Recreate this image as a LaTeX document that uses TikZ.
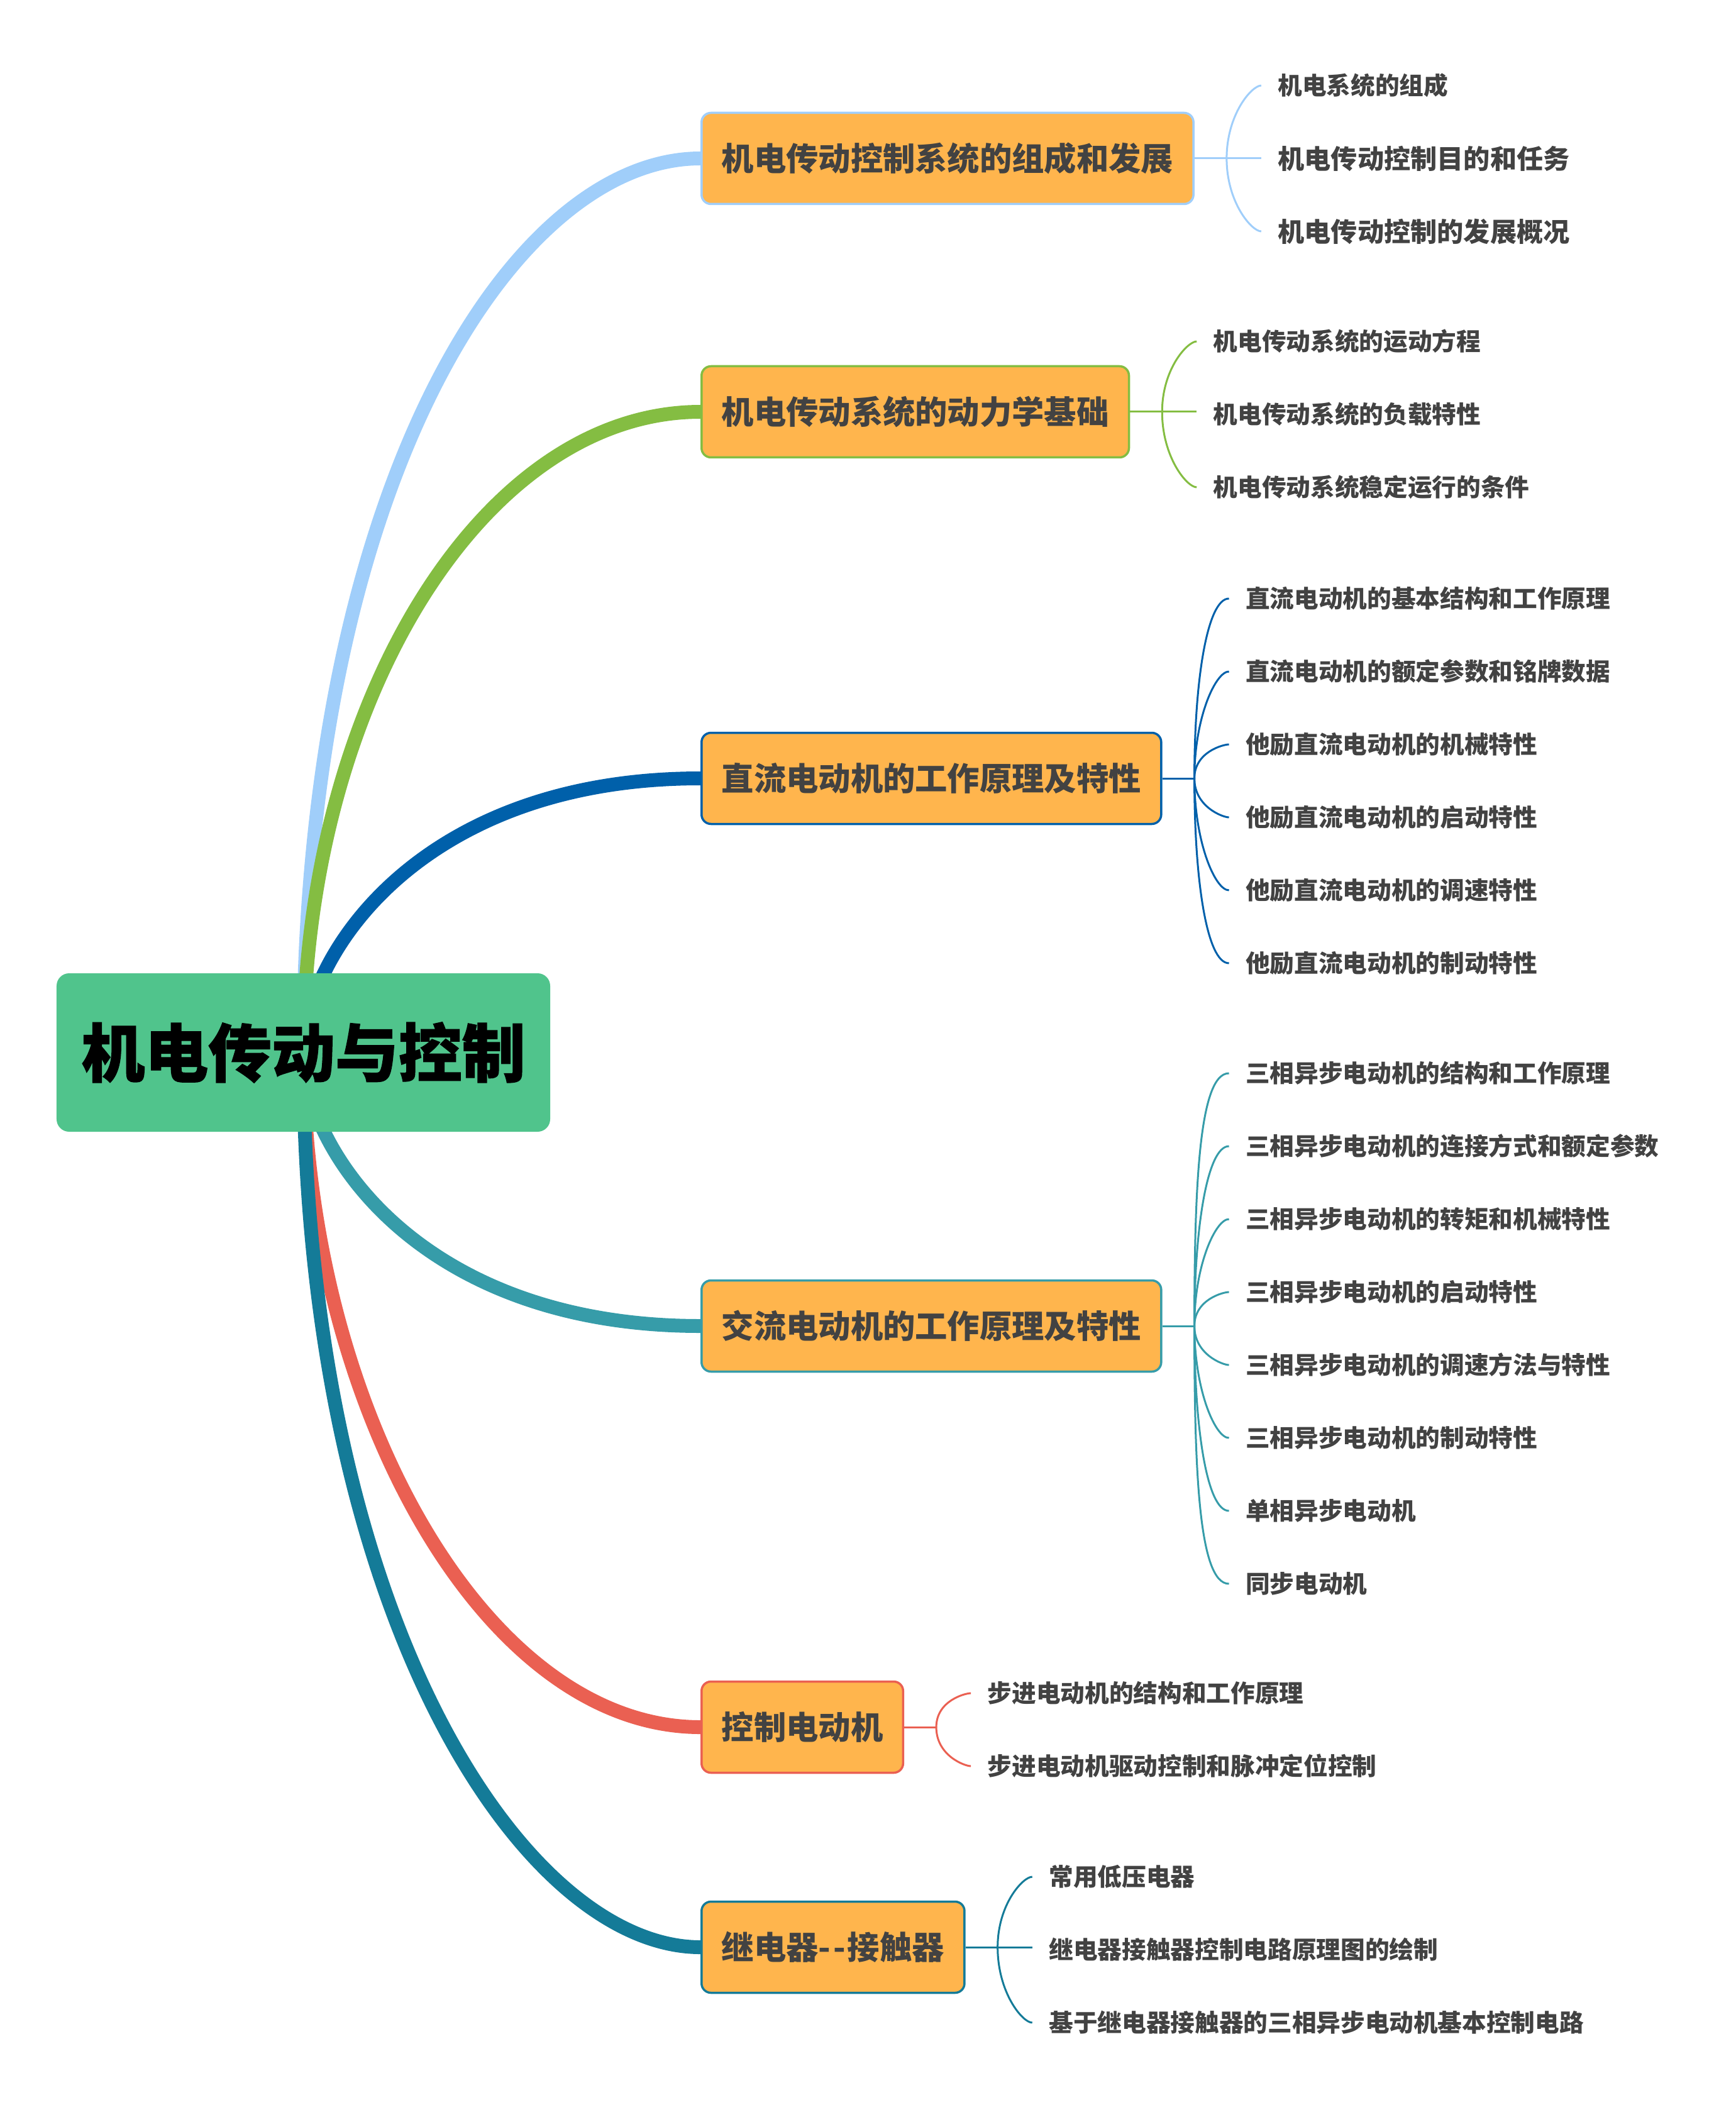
\documentclass[tikz,border=0pt]{standalone}
\usepackage{fontspec}
\newfontfamily\cjk{Noto Sans CJK SC}
\newfontfamily\rootfont{Noto Sans CJK SC}[BoldFeatures={FakeBold=1.2}]
\usetikzlibrary{positioning,backgrounds}

\definecolor{rootgreen}{HTML}{50C48C}
\definecolor{boxorange}{HTML}{FFB54D}
\definecolor{textgray}{HTML}{424242}
\definecolor{skyblue}{HTML}{A0CEFA}
\definecolor{grassgreen}{HTML}{84BD42}
\definecolor{deepblue}{HTML}{0060AA}
\definecolor{seateal}{HTML}{369CA9}
\definecolor{coralred}{HTML}{EA6052}
\definecolor{inkteal}{HTML}{147B98}

\begin{document}
\begin{tikzpicture}[
    x=1mm, y=1mm,
    root/.style={fill=rootgreen,rounded corners=2mm,minimum width=78.5mm,minimum height=25.2mm,
      font=\rootfont\bfseries\fontsize{28.7}{30}\selectfont},
    topic/.style={draw=#1,fill=boxorange,line width=0.35mm,rounded corners=1.5mm,
      minimum height=14.5mm,inner xsep=3.2mm,anchor=west,text=textgray,
      font=\cjk\bfseries\fontsize{14.6}{16}\selectfont},
    sub/.style={anchor=west,inner xsep=2.6mm,text=textgray,
      font=\cjk\bfseries\fontsize{11}{13}\selectfont},
    bigsub/.style={sub,font=\cjk\bfseries\fontsize{12}{14}\selectfont},
    limb/.style={draw=#1,line width=2.2mm},
    twig/.style={draw=#1,line width=0.3mm},
    fanup/.style={out=90,in=180,out looseness=1.4,in looseness=0.3},
    fandown/.style={out=-90,in=180,out looseness=1.4,in looseness=0.3}]
  \useasboundingbox (0,0) rectangle (276,-334.8);

  % centre and main topics
  \node[root] (root) at (48.25,-167.4) {机电传动与控制};
  \node[topic=skyblue] (b1) at (111.4,-25.2) {机电传动控制系统的组成和发展};
  \node[topic=grassgreen] (b2) at (111.4,-65.5) {机电传动系统的动力学基础};
  \node[topic=deepblue] (b3) at (111.4,-123.8) {直流电动机的工作原理及特性};
  \node[topic=seateal] (b4) at (111.4,-210.9) {交流电动机的工作原理及特性};
  \node[topic=coralred] (b5) at (111.4,-274.7) {控制电动机};
  \node[topic=inkteal] (b6) at (111.4,-309.7) {继电器-\kern0.4mm-\kern0.3mm接触器};

  % subtopics
  \node[sub] (b1s1) at ([xshift=10.6mm,yshift=11.6mm]b1.east) {机电系统的组成};
  \node[bigsub] (b1s2) at ([xshift=10.6mm]b1.east) {机电传动控制目的和任务};
  \node[bigsub] (b1s3) at ([xshift=10.6mm,yshift=-11.6mm]b1.east) {机电传动控制的发展概况};
  \foreach \t [count=\i] in {机电传动系统的运动方程,机电传动系统的负载特性,机电传动系统稳定运行的条件}
    \node[sub] (b2s\i) at ([xshift=10.6mm,yshift={(2-\i)*11.6mm-0.4mm}]b2.east) {\t};
  \foreach \t [count=\i] in {直流电动机的基本结构和工作原理,直流电动机的额定参数和铭牌数据,
      他励直流电动机的机械特性,他励直流电动机的启动特性,他励直流电动机的调速特性,他励直流电动机的制动特性}
    \node[sub] (b3s\i) at ([xshift=10.6mm,yshift={(3.5-\i)*11.6mm-0.4mm}]b3.east) {\t};
  \foreach \t [count=\i] in {三相异步电动机的结构和工作原理,三相异步电动机的连接方式和额定参数,
      三相异步电动机的转矩和机械特性,三相异步电动机的启动特性,三相异步电动机的调速方法与特性,
      三相异步电动机的制动特性,单相异步电动机,同步电动机}
    \node[sub] (b4s\i) at ([xshift=10.6mm,yshift={(4.5-\i)*11.6mm-0.4mm}]b4.east) {\t};
  \foreach \t [count=\i] in {步进电动机的结构和工作原理,步进电动机驱动控制和脉冲定位控制}
    \node[sub] (b5s\i) at ([xshift=10.6mm,yshift={(1.5-\i)*11.6mm-0.4mm}]b5.east) {\t};
  \foreach \t [count=\i] in {常用低压电器,继电器接触器控制电路原理图的绘制,基于继电器接触器的三相异步电动机基本控制电路}
    \node[sub] (b6s\i) at ([xshift=10.6mm,yshift={(2-\i)*11.6mm-0.4mm}]b6.east) {\t};

  % thick branches behind the boxes
  \begin{scope}[on background layer]
    \draw[limb=skyblue] (root.center) to[out=90,in=180,out distance=90mm,in distance=30mm] (b1.west);
    \draw[limb=grassgreen] (root.center) to[out=90,in=180,out distance=55mm,in distance=35mm] (b2.west);
    \draw[limb=deepblue] (root.center) to[out=90,in=180,out distance=15mm,in distance=45mm] (b3.west);
    \draw[limb=seateal] (root.center) to[out=-90,in=180,out distance=15mm,in distance=45mm] (b4.west);
    \draw[limb=coralred] (root.center) to[out=-90,in=180,out distance=55mm,in distance=35mm] (b5.west);
    \draw[limb=inkteal] (root.center) to[out=-90,in=180,out distance=90mm,in distance=28mm] (b6.west);
  \end{scope}

  % brackets
  \draw[twig=skyblue] (b1.east) -- ++(5.1,0) coordinate (j1) -- (b1s2.west);
  \draw[twig=skyblue] (j1) to[fanup] (b1s1.west);
  \draw[twig=skyblue] (j1) to[fandown] (b1s3.west);
  \draw[twig=grassgreen] (b2.east) -- ++(5.1,0) coordinate (j2) -- ([yshift=0.4mm]b2s2.west);
  \draw[twig=grassgreen] (j2) to[fanup] (b2s1.west);
  \draw[twig=grassgreen] (j2) to[fandown] (b2s3.west);
  \draw[twig=deepblue] (b3.east) -- ++(5.1,0) coordinate (j3);
  \foreach \i in {1,2,3} \draw[twig=deepblue] (j3) to[fanup] (b3s\i.west);
  \foreach \i in {4,5,6} \draw[twig=deepblue] (j3) to[fandown] (b3s\i.west);
  \draw[twig=seateal] (b4.east) -- ++(5.1,0) coordinate (j4);
  \foreach \i in {1,...,4} \draw[twig=seateal] (j4) to[fanup] (b4s\i.west);
  \foreach \i in {5,...,8} \draw[twig=seateal] (j4) to[fandown] (b4s\i.west);
  \draw[twig=coralred] (b5.east) -- ++(5.1,0) coordinate (j5);
  \draw[twig=coralred] (j5) to[fanup] (b5s1.west);
  \draw[twig=coralred] (j5) to[fandown] (b5s2.west);
  \draw[twig=inkteal] (b6.east) -- ++(5.1,0) coordinate (j6) -- ([yshift=0.4mm]b6s2.west);
  \draw[twig=inkteal] (j6) to[fanup] (b6s1.west);
  \draw[twig=inkteal] (j6) to[fandown] (b6s3.west);
\end{tikzpicture}
\end{document}
